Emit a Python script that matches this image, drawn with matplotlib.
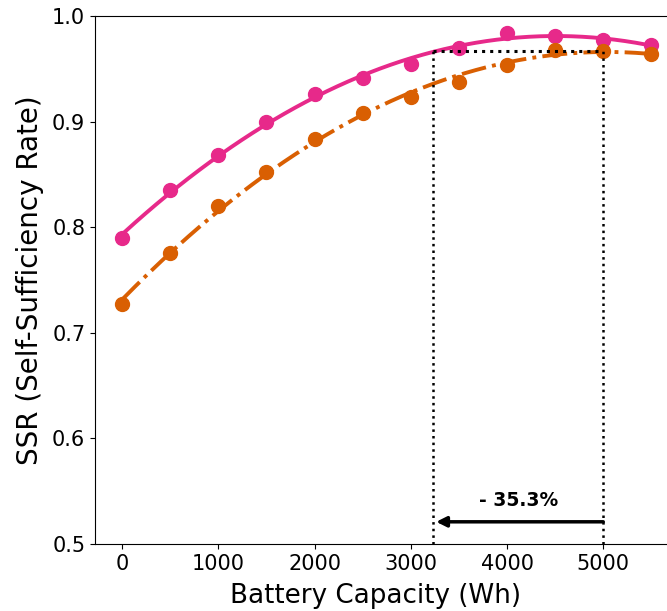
import numpy as np
import matplotlib.pyplot as plt

# Capacidad de batería (Wh) y SSR de cada escenario
capacidad = [0, 500, 1000, 1500, 2000, 2500, 3000, 3500, 4000, 4500, 5000, 5500]
ssr_rosa = [0.790, 0.835, 0.868, 0.900, 0.926, 0.941, 0.955, 0.970, 0.984, 0.981, 0.977, 0.973]
ssr_naranja = [0.727, 0.776, 0.820, 0.852, 0.884, 0.908, 0.923, 0.938, 0.954, 0.968, 0.967, 0.964]

# Marcas de la reducción
cap_ref = 5000
cap_red = 3235
ssr_ref = 0.967
etiqueta = "- 35.3%"

fig = plt.figure(figsize=(6.67, 6.11), dpi=100)
# el eje derecho queda fuera de la figura (recortado como en el original)
ax = fig.add_axes([0.1424, 0.1097, 0.9, 0.864])
ax.spines["right"].set_visible(False)

xs = np.linspace(0, 5500, 200)
for ys, color, ls in [(ssr_rosa, "#e7298a", "-"), (ssr_naranja, "#d95f02", "-.")]:
    coef = np.polyfit(capacidad, ys, 2)
    ax.plot(xs, np.polyval(coef, xs), color=color, ls=ls, lw=2.8)
    ax.plot(capacidad, ys, "o", color=color, ms=10)

# Líneas punteadas y flecha
ax.plot([cap_red, cap_red], [0.5, ssr_ref], ":", color="black", lw=1.8)
ax.plot([cap_ref, cap_ref], [0.5, ssr_ref], ":", color="black", lw=1.8)
ax.plot([cap_red, cap_ref], [ssr_ref, ssr_ref], ":", color="black", lw=2.2)
ax.annotate("", xy=(cap_red, 0.521), xytext=(cap_ref, 0.521),
            arrowprops=dict(arrowstyle="-|>", color="black", lw=2.5, mutation_scale=15,
                            shrinkA=0, shrinkB=2))
ax.text((cap_red + cap_ref) / 2, 0.532, etiqueta, ha="center", va="bottom",
        fontsize=13.5, fontweight="bold")

ax.set_xlim(-281, 5956)
ax.set_ylim(0.5, 1.0)
ax.set_xticks([0, 1000, 2000, 3000, 4000, 5000])
ax.set_yticks([0.5, 0.6, 0.7, 0.8, 0.9, 1.0])
ax.tick_params(labelsize=15)
ax.set_xlabel("Battery Capacity (Wh)", fontsize=18.8, labelpad=7)
ax.xaxis.label.set_x(0.468)
ax.set_ylabel("SSR (Self-Sufficiency Rate)", fontsize=20, labelpad=6)

fig.savefig("out.png", dpi=100)
